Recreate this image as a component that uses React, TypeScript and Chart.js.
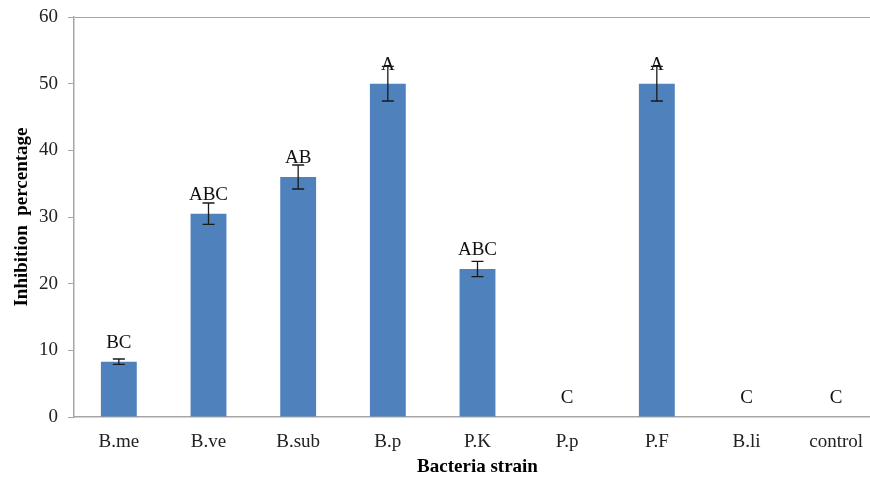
import React, { useEffect, useRef } from "react";
import { Chart, registerables } from "chart.js";

Chart.register(...registerables);

const categories = ["B.me", "B.ve", "B.sub", "B.p", "P.K", "P.p", "P.F", "B.li", "control"];
const values = [8.3, 30.5, 36, 50, 22.2, 0, 50, 0, 0];
const errors = [0.4, 1.6, 1.8, 2.6, 1.15, 0, 2.6, 0, 0];
const letters = ["BC", "ABC", "AB", "A", "ABC", "C", "A", "C", "C"];
const yMin = 0;
const yMax = 60;
const yStep = 10;

const FONT = '"Liberation Serif", "Times New Roman", serif';
const AXIS_GRAY = "#a6a6a6";
const FS = 19;

const overlay = {
  id: "overlay",
  afterDatasetsDraw(chart: any) {
    const { ctx, scales } = chart;
    const y = scales.y;
    const meta = chart.getDatasetMeta(0);
    ctx.save();
    meta.data.forEach((bar: any, i: number) => {
      const x = bar.x;
      ctx.font = `${FS}px ${FONT}`;
      ctx.textAlign = "center";
      ctx.textBaseline = "middle";
      ctx.fillStyle = "#111";
      ctx.fillText(letters[i], x, y.getPixelForValue(values[i]) - 19);
      const e = errors[i];
      if (e > 0) {
        const yt = y.getPixelForValue(values[i] + e);
        const yb = y.getPixelForValue(values[i] - e);
        ctx.strokeStyle = "#1a1a1a";
        ctx.lineWidth = 1.3;
        ctx.beginPath();
        ctx.moveTo(x, yt);
        ctx.lineTo(x, yb);
        ctx.moveTo(x - 6, yt);
        ctx.lineTo(x + 6, yt);
        ctx.moveTo(x - 6, yb);
        ctx.lineTo(x + 6, yb);
        ctx.stroke();
      }
    });
    ctx.restore();
  },
};

export default function App() {
  const ref = useRef<HTMLCanvasElement | null>(null);

  useEffect(() => {
    if (!ref.current) return;
    const chart = new Chart(ref.current, {
      type: "bar",
      data: {
        labels: categories,
        datasets: [
          {
            data: values,
            backgroundColor: "#4F81BD",
            borderWidth: 0,
            barPercentage: 0.4,
            categoryPercentage: 1,
          },
        ],
      },
      options: {
        responsive: false,
        animation: false,
        layout: { padding: { top: 17, right: 19, left: 0, bottom: 0 } },
        plugins: { legend: { display: false }, tooltip: { enabled: false } },
        scales: {
          x: {
            grid: { display: false },
            border: { display: true, color: AXIS_GRAY, width: 1.5 },
            ticks: { color: "#222", font: { family: FONT, size: FS }, padding: 6, maxRotation: 0 },
            title: {
              display: true,
              text: "Bacteria strain",
              color: "#000",
              font: { family: FONT, size: FS, weight: "bold" },
              padding: { top: 0, bottom: 1 },
            },
            afterFit(scale: any) {
              scale.height = 62;
              scale.paddingLeft = 0;
              scale.paddingRight = 0;
            },
          },
          y: {
            min: yMin,
            max: yMax,
            ticks: { stepSize: yStep, color: "#222", font: { family: FONT, size: FS }, padding: 10 },
            grid: {
              drawOnChartArea: true,
              color: (c: any) => (c.tick && c.tick.value === yMax ? AXIS_GRAY : "transparent"),
              tickColor: AXIS_GRAY,
              tickLength: 6,
            },
            border: { display: true, color: AXIS_GRAY, width: 1.5 },
            title: {
              display: true,
              text: "Inhibition  percentage",
              color: "#000",
              font: { family: FONT, size: FS, weight: "bold" },
              padding: 11,
            },
            afterFit(scale: any) {
              scale.width = 74;
              scale.paddingTop = 0;
              scale.paddingBottom = 0;
            },
          },
        },
      },
      plugins: [overlay],
    });
    return () => chart.destroy();
  }, []);

  return (
    <div style={{ position: "fixed", left: 0, top: 0, width: 870, height: 479, overflow: "hidden", background: "#fff" }}>
      <canvas ref={ref} width={900} height={479} style={{ display: "block" }} />
    </div>
  );
}
